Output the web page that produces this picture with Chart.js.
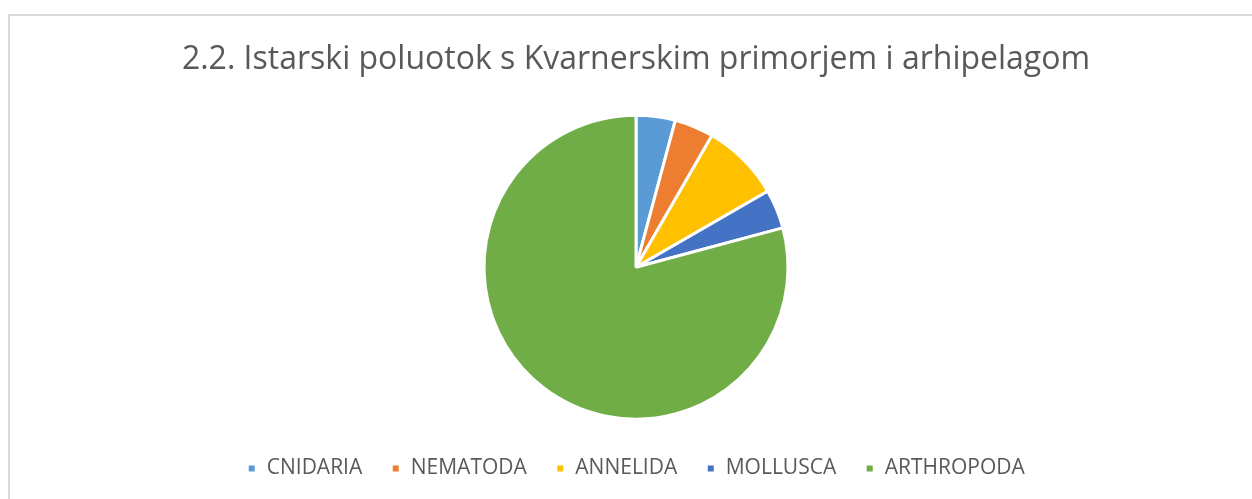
<!DOCTYPE html>
<html>
<head>
<meta charset="utf-8">
<script src="https://cdn.jsdelivr.net/npm/chart.js@4"></script>
<style>
  html, body { margin: 0; padding: 0; background: #fff; overflow: hidden; }
  #frame { position: absolute; left: 8px; top: 14px; width: 1300px; height: 600px; border: 2px solid #d9d9d9; box-sizing: border-box; }
  #wrap { position: absolute; left: 0; top: 0; width: 1252px; height: 499px; }
</style>
</head>
<body>
<div id="frame"></div>
<div id="wrap"><canvas id="graf"></canvas></div>
<script>
// podaci
const kategorije = ['CNIDARIA', 'NEMATODA', 'ANNELIDA', 'MOLLUSCA', 'ARTHROPODA'];
const vrijednosti = [3, 3, 6, 3, 57];
const boje = ['#5B9BD5', '#ED7D31', '#FFC000', '#4472C4', '#70AD47'];
const naslov = '2.2. Istarski poluotok s Kvarnerskim primorjem i arhipelagom';

const ctx = document.getElementById('graf');

new Chart(ctx, {
    type: 'pie',
    data: {
        labels: kategorije,
        datasets: [{
            data: vrijednosti,
            backgroundColor: boje,
            borderColor: '#ffffff',
            borderWidth: 3,
            radius: 152
        }]
    },
    options: {
        responsive: true,
        maintainAspectRatio: false,
        animation: false,
        layout: {
            padding: { top: 0, bottom: 10, left: 20, right: 0 }
        },
        plugins: {
            title: {
                display: true,
                text: naslov,
                color: '#595959',
                font: { family: '"Open Sans"', size: 32, weight: 'normal' },
                padding: { top: 41, bottom: 26 }
            },
            legend: {
                position: 'bottom',
                labels: {
                    color: '#595959',
                    font: { family: '"Open Sans"', size: 21 },
                    boxWidth: 9,
                    boxHeight: 9,
                    padding: 29
                }
            },
            tooltip: { enabled: false }
        }
    }
});
</script>
</body>
</html>
